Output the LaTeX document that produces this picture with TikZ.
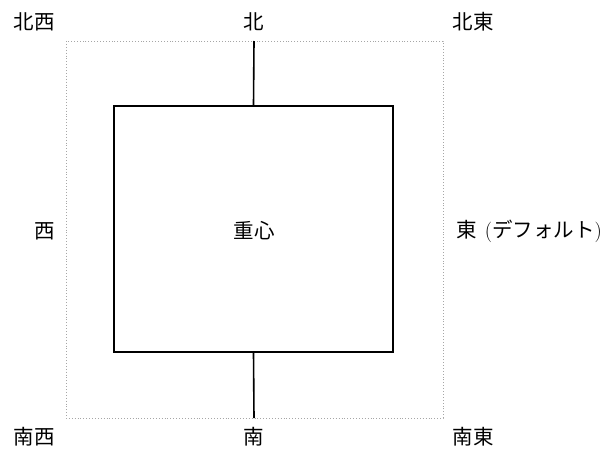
\documentclass[tikz,border=0pt]{standalone}
\usepackage{fontspec}
\newfontfamily\jp{Noto Sans CJK JP}
\begin{document}
\begin{tikzpicture}[x=1pt,y=-1pt,
  lbl/.style={inner sep=0pt,font=\fontsize{20.5}{24}\selectfont\jp},
  box/.style={draw=black,line width=1.6pt},
  outer/.style={draw=gray!70,dotted,line width=0.9pt}]
\useasboundingbox (0,0) rectangle (613,453);
\draw[outer] (66,41) rectangle (443,418);
\coordinate (ntop) at (254,41);
\coordinate (sbot) at (254,418);
\node[box,minimum width=279pt,minimum height=246pt,inner sep=0pt] (sq) at (253.5,229) {};
\draw[box] (ntop) -- (sq.north);
\draw[box] (sq.south) -- (sbot);
\node[lbl] (nw) at (34,22) {北西};
\node[lbl] (n) at (254,22) {北};
\node[lbl] (ne) at (473,22) {北東};
\node[lbl] (w) at (45,231) {西};
\node[lbl] (c) at (254,231) {重心};
\node[lbl,font=\fontsize{20.5}{24}\selectfont] (e) at (529,231) {{\jp 東}\hspace{2pt} ({\jp デフォルト})};
\node[lbl] (sw) at (34,437) {南西};
\node[lbl] (s) at (254,437) {南};
\node[lbl] (se) at (473,437) {南東};
\end{tikzpicture}
\end{document}
